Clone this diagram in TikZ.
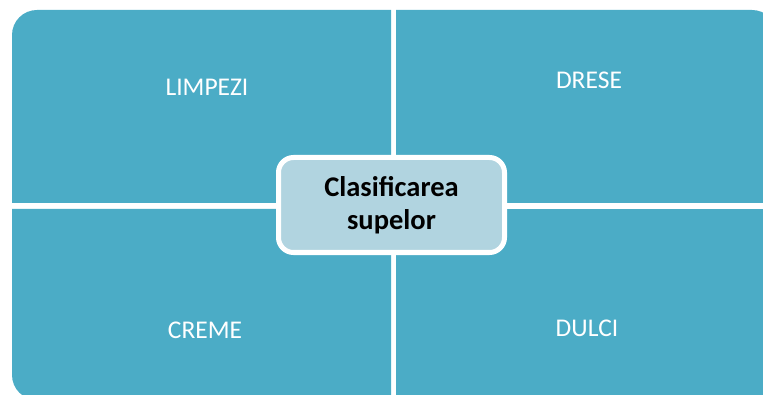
\documentclass[tikz,border=0pt]{standalone}
\usepackage{fontspec}
\setmainfont{Carlito}
\usetikzlibrary{positioning}
\definecolor{quadblue}{RGB}{75,172,198}
\definecolor{centreblue}{RGB}{177,212,224}

\begin{document}
\begin{tikzpicture}[x=1pt, y=1pt,
    quad/.style={fill=quadblue},
    quadtext/.style={text=white, font=\fontsize{25.5}{30}\selectfont},
    centre/.style={fill=centreblue, draw=white, line width=5pt, rounded corners=15pt,
        minimum width=226pt, minimum height=95pt, inner sep=0pt, align=center,
        font=\bfseries\fontsize{28.5}{33}\selectfont}]

    \useasboundingbox (0,0) rectangle (763,394);
    \clip (0,0) rectangle (763,394);

    % the four quadrants, rounded on the outer corner only
    \fill[quad] (12,191) -- (12,359) arc[start angle=180, end angle=90, radius=25] -- (391,384) -- (391,191) -- cycle;
    \fill[quad] (396,191) -- (396,384) -- (752,384) arc[start angle=90, end angle=0, radius=25] -- (777,191) -- cycle;
    \fill[quad] (391,185) -- (12,185) -- (12,19) arc[start angle=180, end angle=270, radius=25] -- (391,-6) -- cycle;
    \fill[quad] (396,185) -- (790,185) -- (790,-20) -- (396,-20) -- cycle;

    \node[quadtext] (limpezi) at (207,307) {LIMPEZI};
    \node[quadtext] (drese) at (589,314) {DRESE};
    \node[quadtext] (creme) at (205,64) {CREME};
    \node[quadtext] (dulci) at (587,66) {DULCI};

    \node[centre] (clasif) at (391.5,189) {Clasificarea\\supelor};

\end{tikzpicture}
\end{document}
